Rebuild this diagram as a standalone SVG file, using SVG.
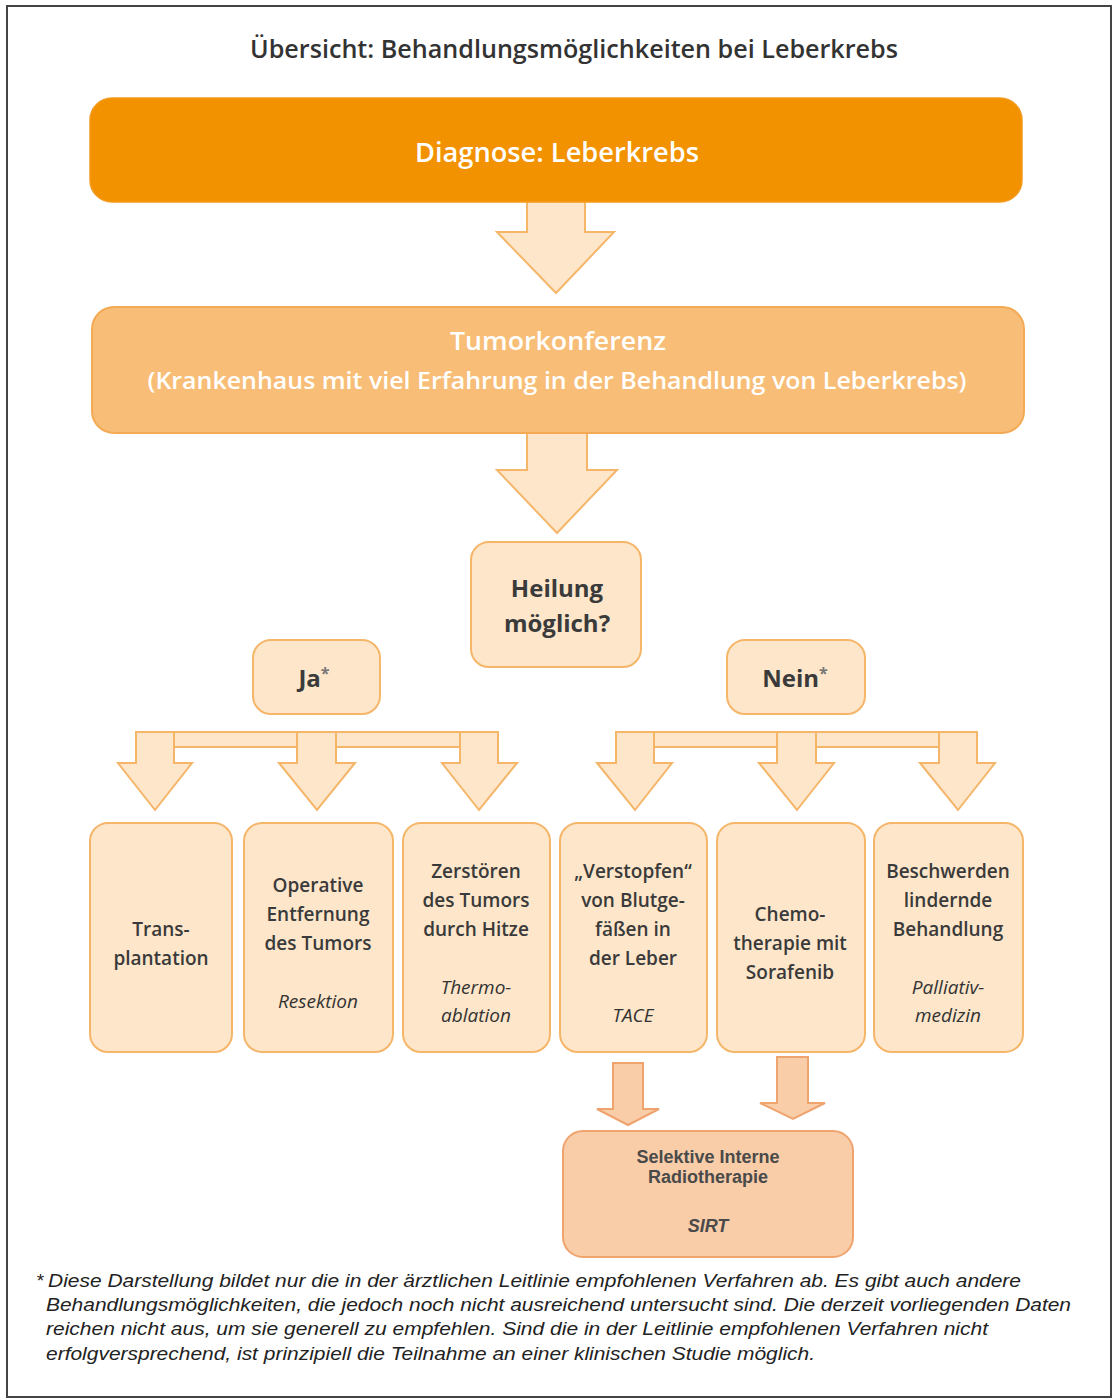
<svg xmlns="http://www.w3.org/2000/svg" width="1114" height="1398" viewBox="0 0 1114 1398">
<style>
.t{font-family:"Open Sans","Noto Sans",sans-serif;text-anchor:middle}
.title{font-family:"Open Sans","Noto Sans",sans-serif;font-weight:600;font-size:25px;fill:#333}
.w{fill:#fff;font-weight:600}
.d{fill:#3a3a3a;font-weight:600}
.h{font-weight:700}
.b{font-size:19px}
.i{font-style:italic;font-weight:400;fill:#333}
.peach{fill:#FDE6CA;stroke:#F5B66A;stroke-width:2}
.salmon{fill:#F9CDA8;stroke:#EFA36F;stroke-width:2}
.s{font-family:"Liberation Sans",Arial,sans-serif;font-weight:700;fill:#4a4a4a;font-size:18px;text-anchor:middle}
.fn{font-family:"Liberation Sans",Arial,sans-serif;font-style:italic;font-size:19px;fill:#222}
</style>
<rect x="0" y="0" width="1114" height="1398" fill="#fff"/>
<rect x="7" y="6" width="1104" height="1391" fill="none" stroke="#444" stroke-width="2"/>
<text class="title" x="574" y="58" text-anchor="middle" textLength="648" lengthAdjust="spacingAndGlyphs">Übersicht: Behandlungsmöglichkeiten bei Leberkrebs</text>

<g id="connectors">
  <polygon class="peach" points="527,196 585,196 585,232 614,232 556,293 497,232 527,232"/>
  <polygon class="peach" points="527,428 587,428 587,470 617,470 557,533 497,470 527,470"/>
  <rect class="peach" x="155" y="732" width="324" height="15"/>
  <polygon class="peach" points="136,732 174,732 174,763 192,763 155,810 118,763 136,763"/>
  <polygon class="peach" points="297,732 336,732 336,763 355,763 317,810 279,763 297,763"/>
  <polygon class="peach" points="460,732 498,732 498,763 517,763 479,810 442,763 460,763"/>
  <rect class="peach" x="635" y="732" width="323" height="15"/>
  <polygon class="peach" points="616,732 654,732 654,763 672,763 635,810 597,763 616,763"/>
  <polygon class="peach" points="777,732 816,732 816,763 834,763 797,810 759,763 777,763"/>
  <polygon class="peach" points="939,732 977,732 977,763 995,763 958,810 920,763 939,763"/>
  <polygon class="salmon" points="613,1063 643,1063 643,1109 659,1109 628,1125 597,1109 613,1109"/>
  <polygon class="salmon" points="777,1057 808,1057 808,1103 825,1103 793,1119 760,1103 777,1103"/>
</g>

<g id="diagnose">
  <rect x="90" y="98" width="932" height="104" rx="22" fill="#F39200" stroke="#F29A1C" stroke-width="1.5"/>
  <text class="t w" x="557" y="162" font-size="27" textLength="284" lengthAdjust="spacingAndGlyphs">Diagnose: Leberkrebs</text>
</g>

<g id="tumorkonferenz">
  <rect x="92" y="307" width="932" height="126" rx="22" fill="#F8BD76" stroke="#F4AA55" stroke-width="2"/>
  <text class="t w" x="558" y="350" font-size="26" textLength="216" lengthAdjust="spacingAndGlyphs">Tumorkonferenz</text>
  <text class="t w" x="557" y="389" font-size="24" textLength="819" lengthAdjust="spacingAndGlyphs">(Krankenhaus mit viel Erfahrung in der Behandlung von Leberkrebs)</text>
</g>

<g id="heilung">
  <rect class="peach" x="471" y="542" width="170" height="125" rx="18"/>
  <text class="t d h" x="557" y="597" font-size="24">Heilung</text>
  <text class="t d h" x="557" y="632" font-size="24">möglich?</text>
</g>

<g id="ja">
  <rect class="peach" x="253" y="640" width="127" height="74" rx="18"/>
  <text class="t d h" x="314" y="687" font-size="24">Ja<tspan font-size="16" dy="-8" fill="#777">*</tspan></text>
</g>

<g id="nein">
  <rect class="peach" x="727" y="640" width="138" height="74" rx="18"/>
  <text class="t d h" x="795" y="687" font-size="24">Nein<tspan font-size="16" dy="-8" fill="#777">*</tspan></text>
</g>

<g id="transplantation">
  <rect class="peach" x="90" y="823" width="142" height="229" rx="18"/>
  <text class="t d b" x="161" y="936">Trans-</text>
  <text class="t d b" x="161" y="965">plantation</text>
</g>

<g id="resektion">
  <rect class="peach" x="244" y="823" width="149" height="229" rx="18"/>
  <text class="t d b" x="318" y="892">Operative</text>
  <text class="t d b" x="318" y="921">Entfernung</text>
  <text class="t d b" x="318" y="950">des Tumors</text>
  <text class="t d b i" x="318" y="1008">Resektion</text>
</g>

<g id="thermoablation">
  <rect class="peach" x="403" y="823" width="147" height="229" rx="18"/>
  <text class="t d b" x="476" y="878">Zerstören</text>
  <text class="t d b" x="476" y="907">des Tumors</text>
  <text class="t d b" x="476" y="936">durch Hitze</text>
  <text class="t d b i" x="476" y="994">Thermo-</text>
  <text class="t d b i" x="476" y="1022">ablation</text>
</g>

<g id="tace">
  <rect class="peach" x="560" y="823" width="147" height="229" rx="18"/>
  <text class="t d b" x="633" y="878">„Verstopfen“</text>
  <text class="t d b" x="633" y="907">von Blutge-</text>
  <text class="t d b" x="633" y="936">fäßen in</text>
  <text class="t d b" x="633" y="965">der Leber</text>
  <text class="t d b i" x="633" y="1022">TACE</text>
</g>

<g id="chemotherapie">
  <rect class="peach" x="717" y="823" width="148" height="229" rx="18"/>
  <text class="t d b" x="790" y="921">Chemo-</text>
  <text class="t d b" x="790" y="950">therapie mit</text>
  <text class="t d b" x="790" y="979">Sorafenib</text>
</g>

<g id="palliativ">
  <rect class="peach" x="874" y="823" width="149" height="229" rx="18"/>
  <text class="t d b" x="948" y="878">Beschwerden</text>
  <text class="t d b" x="948" y="907">lindernde</text>
  <text class="t d b" x="948" y="936">Behandlung</text>
  <text class="t d b i" x="948" y="994">Palliativ-</text>
  <text class="t d b i" x="948" y="1022">medizin</text>
</g>

<g id="sirt">
  <rect class="salmon" x="563" y="1131" width="290" height="126" rx="20"/>
  <text class="s" x="708" y="1163">Selektive Interne</text>
  <text class="s" x="708" y="1183">Radiotherapie</text>
  <text class="s" x="708" y="1232" font-size="20" font-style="italic">SIRT</text>
</g>

<g id="footnote">
  <text class="fn" x="36" y="1287">*</text>
  <text class="fn" x="48" y="1287" textLength="973" lengthAdjust="spacingAndGlyphs">Diese Darstellung bildet nur die in der ärztlichen Leitlinie empfohlenen Verfahren ab. Es gibt auch andere</text>
  <text class="fn" x="46" y="1311" textLength="1025" lengthAdjust="spacingAndGlyphs">Behandlungsmöglichkeiten, die jedoch noch nicht ausreichend untersucht sind. Die derzeit vorliegenden Daten</text>
  <text class="fn" x="46" y="1335" textLength="942" lengthAdjust="spacingAndGlyphs">reichen nicht aus, um sie generell zu empfehlen. Sind die in der Leitlinie empfohlenen Verfahren nicht</text>
  <text class="fn" x="46" y="1360" textLength="769" lengthAdjust="spacingAndGlyphs">erfolgversprechend, ist prinzipiell die Teilnahme an einer klinischen Studie möglich.</text>
</g>
</svg>
